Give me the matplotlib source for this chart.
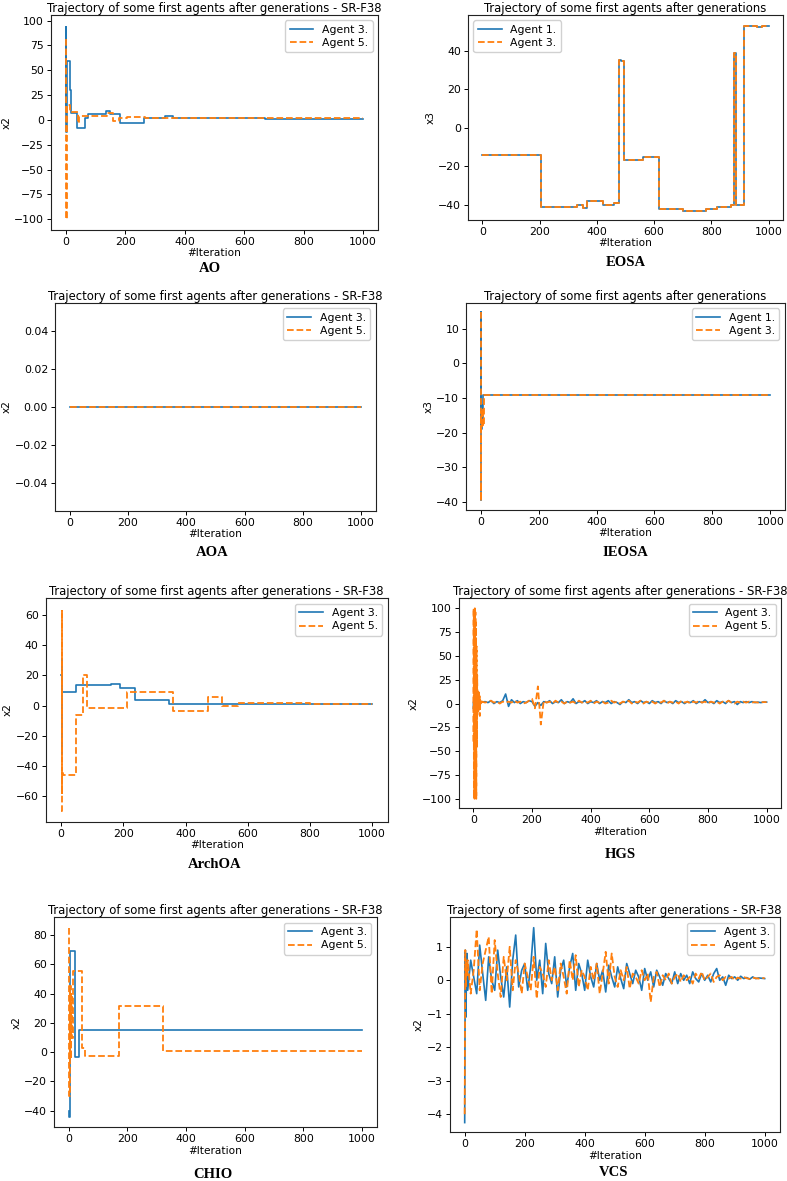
import numpy as np
import matplotlib
matplotlib.use("Agg")
import matplotlib.pyplot as plt

W, H = 787, 1181
BLUE = "#1f77b4"
ORANGE = "#ff7f0e"

TITLE_SR = "Trajectory of some first agents after generations - SR-F38"
TITLE_PLAIN = "Trajectory of some first agents after generations"

# ---------------- AO (step data: iteration where value starts, value) ----------------
ao_a3_it = [0, 1, 2, 4, 15, 17, 38, 63, 75, 135, 150, 182, 263, 335, 360, 670, 1000]
ao_a3_val = [15, 94, -12, 59, 30, 7, -8, 2, 6, 9, 6, -3, 2, 4, 2, 1, 1]
ao_a5_it = [0, 1, 5, 15, 40, 45, 140, 160, 180, 205, 265, 1000]
ao_a5_val = [82, -100, 15, 8, -3, 4, 7, -1, 2, 3, 2, 1.5]

# ---------------- EOSA (both agents identical) ----------------
eosa_it = [0, 206, 330, 352, 365, 420, 460, 477, 485, 495, 530, 560, 617, 700, 780,
           820, 870, 880, 886, 915, 960, 975, 1000]
eosa_val = [-14, -41, -40, -41.5, -38, -40, -39, 35, 34.5, -16.5, -17, -15, -42, -43,
            -42, -41, -40, 39, -40, 53, 52.5, 53, 53]

# ---------------- AOA (flat) ----------------
aoa_it = [0, 1000]
aoa_a3_val = [0, 0]
aoa_a5_val = [0, 0]

# ---------------- IEOSA ----------------
ieosa_a1_it = [0, 1, 2, 3, 5, 7, 1000]
ieosa_a1_val = [-39.5, 14.8, -19, -12, -16, -9.2, -9.2]
ieosa_a3_it = [0, 1, 2, 4, 6, 8, 10, 1000]
ieosa_a3_val = [15, -39.7, -14, -18.5, -13, -18, -9.2, -9.2]

# ---------------- ArchOA ----------------
arch_a3_it = [0, 1, 2, 3, 46, 120, 160, 190, 236, 345, 600, 800, 1000]
arch_a3_val = [20, -32, 31, 9, 13.5, 13.8, 14, 11.5, 3.5, 1, 1.3, 1, 1]
arch_a5_it = [0, 1, 2, 3, 5, 46, 70, 84, 210, 360, 471, 518, 570, 800, 1000]
arch_a5_val = [-70, 63, -58, -45, -46, -6.5, 20, -1.5, 9, -3.5, 5.5, 0, 2, 1, 1]

# ---------------- HGS (noisy) ----------------
hgs_it = list(range(0, 31)) + list(range(40, 1001, 10))
hgs_a3_val = [-5, 2, -8, 5, 3, -3, 4, 1, -2, 3, 2, 0, 3, -1, 2, 4, 1, 0, 2, 3,
              1, 2, 0, 3, 1, 2, 1, 2, 1, 2, 1.5,
              2, 1, 3, 0, 2, 1, 3, 10, -3, 4,
              1, 3, 0, 2, 1, 3, 2, -3, 1, -2,
              2, 1, 3, 0, 2, 1, 4, 0, 2, 1,
              5, 0, 2, 1, 3, 0, 2, 1, 3, 0,
              2, 1, 3, 0, 2, 1, -1, 2, 1, 4,
              1, 2, 0, 3, 1, 2, 0, 3, 1, 2,
              0, 3, 1, 2, 0, 3, 1, 2, 0, 2,
              1, 3, 0, 2, 1, 4, 1, 2, 0, 3,
              1, 2, 0, 3, 1, 2, -1, 2, 1, 2,
              1, 2, 1, 1.5, 1, 1.5, 1.5]
hgs_a5_val = [-40, 100, -100, 98, -100, 100, -99, 96, -100, 85, -100, 60, -45, 30, -12,
              13, 5, -8, 12, 3, -5, 8, -13, 4, 2, 0, 3, 1, 2, 1.5, 2,
              1, 2, 3, 1, 2, 0, 2, 1, 2, 1,
              3, 1, 2, 0, 1, 3, 5, -5, 18, -22,
              3, 1, 2, 0, 3, 1, 2, 0, 2, 1,
              2, 0, 3, 1, 2, 1, 3, 0, 2, 1,
              2, 0, 1, 3, 1, 2, 0, 2, 1, 3,
              0, 2, 1, 3, 0, 2, 1, 2, 0, 2,
              1, 3, 0, 2, 1, 2, 0, 3, 1, 2,
              0, 2, 1, 3, 1, 2, 0, 2, 1, 2,
              0, 2, 1, 3, 1, 0, 2, 1, 2, 1,
              2, 1, 1.5, 1, 1.5, 1.5, 1.5]

# ---------------- CHIO ----------------
chio_a3_it = [0, 1, 3, 6, 23, 34, 1000]
chio_a3_val = [-40, -44.5, -40, 69, -3, 15, 15]
chio_a5_it = [0, 1, 3, 5, 7, 9, 11, 14, 45, 55, 171, 321, 1000]
chio_a5_val = [85, -30, 20, 45, -5, 40, 10, 55.5, 3, -2.5, 31.5, 1, 1]

# ---------------- VCS (noisy) ----------------
vcs_it = [0, 2, 4, 6, 8] + list(range(10, 1001, 10))
vcs_a3_val = [-4.25, 0.9, -1.1, 0.3, 0.8,
              -0.3, 0.6, 0.1, -0.4, 1.05, 0.2, -0.6, 0.7, 0.0, -0.3,
              0.9, 0.1, -0.5, 0.4, -0.8, 0.6, 1.35, -0.2, 0.3, 0.5,
              -0.3, 0.4, 1.57, 0.0, 0.6, -0.4, 1.1, 0.2, -0.1, 0.7,
              -0.5, 0.3, 0.6, -0.2, 0.4, 0.8, -0.3, 0.5, 0.2, -0.3,
              0.6, 0.1, -0.2, 0.5, 0.0, 0.3, -0.35, 0.45, 0.1, -0.2,
              0.4, 0.05, -0.25, 0.5, 0.2, -0.1, 0.3, 0.1, -0.3, 0.35,
              0.0, 0.25, -0.2, 0.3, 0.1, -0.15, 0.2, 0.05, -0.1, 0.25,
              -0.1, 0.2, 0.0, 0.15, -0.1, 0.25, 0.05, -0.05, 0.2, 0.0,
              0.15, -0.05, 0.2, 0.35, 0.0, 0.1, -0.15, 0.15, 0.05, 0.1,
              0.0, 0.12, 0.05, 0.08, 0.03, 0.1, 0.05, 0.07, 0.06, 0.05]
vcs_a5_val = [-4.0, 0.9, -0.2, 0.5, 0.1,
              0.6, -0.4, 0.3, 1.52, -0.3, 0.5, 0.9, 1.3, -0.4, 1.2,
              0.2, -0.5, 0.7, 0.0, 1.0, -0.3, 0.6, 0.2, -0.4, 0.5,
              0.1, -0.3, 0.7, -0.55, 0.4, 0.2, -0.2, 0.6, 0.0, 0.4,
              -0.3, 0.5, 0.1, -0.4, 0.6, 0.0, 0.75, -0.2, 0.3, 0.1,
              -0.3, 0.4, 0.0, 0.5, -0.4, 0.2, 0.85, -0.1, 0.8, 0.1,
              -0.2, 0.3, 0.0, 0.4, -0.25, 0.2, 0.1, -0.1, 0.3, 0.0,
              0.2, -0.65, 0.1, 0.25, -0.2, 0.15, 0.0, 0.2, -0.1, 0.1,
              0.2, -0.05, 0.15, 0.0, 0.1, -0.1, 0.2, 0.05, 0.25, 0.0,
              0.1, 0.2, -0.05, 0.1, 0.15, 0.0, 0.1, 0.05, 0.1, 0.0,
              0.08, 0.05, 0.1, 0.06, 0.04, 0.08, 0.06, 0.05, 0.07, 0.06]

plt.rcParams["font.family"] = ["DejaVu Sans"]
fig = plt.figure(figsize=(W / 100, H / 100), dpi=100)


def make_ax(left, top, right, bottom):
    # pixel box -> figure fraction
    return fig.add_axes([left / W, 1 - bottom / H, (right - left) / W, (bottom - top) / H])


def style(ax, title, ylabel, ylim, yticks, legend_loc="upper right"):
    ax.set_title(title, fontsize=8.4, pad=2.5)
    ax.set_xlabel("#Iteration", fontsize=7.6, labelpad=1)
    ax.set_ylabel(ylabel, fontsize=7.6, labelpad=2)
    ax.set_xlim(-50, 1050)
    ax.set_xticks([0, 200, 400, 600, 800, 1000])
    ax.set_ylim(*ylim)
    ax.set_yticks(yticks)
    ax.tick_params(labelsize=7.8, length=3, width=0.7, pad=2)
    for s in ax.spines.values():
        s.set_linewidth(0.8)
        s.set_color("#222222")
    ax.legend(loc=legend_loc, fontsize=7.8, handlelength=2.2, borderpad=0.4,
              labelspacing=0.3, framealpha=0.9)


def panel_label(x, y, text):
    fig.text(x / W, 1 - y / H, text, ha="center", va="center", fontsize=10.5,
             fontweight="bold", family="Liberation Serif")


def two_lines(ax, x1, y1, l1, x2, y2, l2, steps=True):
    ds = "steps-post" if steps else "default"
    ax.plot(x1, y1, color=BLUE, lw=1.2, drawstyle=ds, label=l1)
    ax.plot(x2, y2, color=ORANGE, lw=1.3, ls="--", drawstyle=ds, label=l2)


# AO
ax = make_ax(51, 15, 378, 230)
two_lines(ax, ao_a3_it, ao_a3_val, "Agent 3.", ao_a5_it, ao_a5_val, "Agent 5.")
style(ax, TITLE_SR, "x2", (-110.8, 105.7), [-100, -75, -50, -25, 0, 25, 50, 75, 100])
panel_label(210, 269, "AO")

# EOSA
ax = make_ax(468, 15, 783, 220)
two_lines(ax, eosa_it, eosa_val, "Agent 1.", eosa_it, eosa_val, "Agent 3.")
style(ax, TITLE_PLAIN, "x3", (-47.9, 58.5), [-40, -20, 0, 20, 40], legend_loc="upper left")
panel_label(626, 263, "EOSA")

# AOA
ax = make_ax(55, 303, 375.7, 511)
two_lines(ax, aoa_it, aoa_a3_val, "Agent 3.", aoa_it, aoa_a5_val, "Agent 5.")
style(ax, TITLE_SR, "x2", (-0.055, 0.055), [-0.04, -0.02, 0.0, 0.02, 0.04])
panel_label(212.7, 553, "AOA")

# IEOSA
ax = make_ax(466.3, 303, 784.7, 510)
two_lines(ax, ieosa_a1_it, ieosa_a1_val, "Agent 1.", ieosa_a3_it, ieosa_a3_val, "Agent 3.")
style(ax, TITLE_PLAIN, "x3", (-42.4, 17.5), [-40, -30, -20, -10, 0, 10])
panel_label(625.7, 553, "IEOSA")

# ArchOA
ax = make_ax(45.7, 598.3, 387.7, 821.7)
two_lines(ax, arch_a3_it, arch_a3_val, "Agent 3.", arch_a5_it, arch_a5_val, "Agent 5.")
style(ax, TITLE_SR, "x2", (-77, 71.1), [-60, -40, -20, 0, 20, 40, 60])
panel_label(215, 864, "ArchOA")

# HGS
ax = make_ax(458.7, 598.3, 781.3, 808.3)
two_lines(ax, hgs_it, hgs_a3_val, "Agent 3.", hgs_it, hgs_a5_val, "Agent 5.", steps=False)
style(ax, TITLE_SR, "x2", (-110, 110.5), [-100, -75, -50, -25, 0, 25, 50, 75, 100])
panel_label(620.3, 854, "HGS")

# CHIO
ax = make_ax(54, 917.3, 376.7, 1127.3)
two_lines(ax, chio_a3_it, chio_a3_val, "Agent 3.", chio_a5_it, chio_a5_val, "Agent 5.")
style(ax, TITLE_SR, "x2", (-51.3, 92.1), [-40, -20, 0, 20, 40, 60, 80])
panel_label(213.3, 1174, "CHIO")

# VCS
ax = make_ax(449.7, 917.3, 779.7, 1132.3)
two_lines(ax, vcs_it, vcs_a3_val, "Agent 3.", vcs_it, vcs_a5_val, "Agent 5.", steps=False)
style(ax, TITLE_SR, "x2", (-4.54, 1.88), [-4, -3, -2, -1, 0, 1])
panel_label(613.7, 1173, "VCS")

fig.savefig("out.png", dpi=100)
